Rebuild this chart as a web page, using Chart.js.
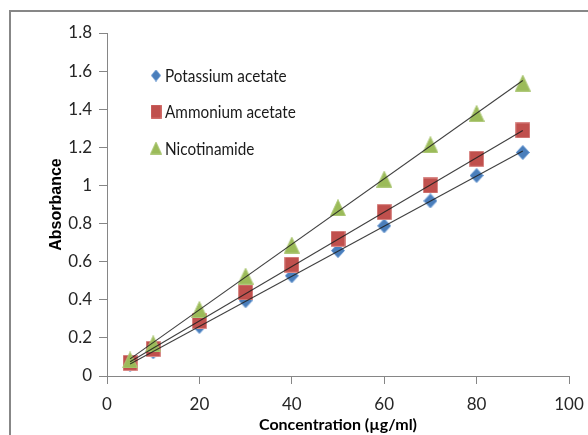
<!DOCTYPE html>
<html>
<head>
<meta charset="utf-8">
<script src="https://cdn.jsdelivr.net/npm/chart.js@4.4.1/dist/chart.umd.min.js"></script>
<style>
    body { margin: 0; background: #fff; }
    #wrap { position: relative; width: 588px; height: 435px; overflow: hidden; }
    #frame { position: absolute; left: 9px; top: 10px; width: 620px; height: 460px;
             border-left: 2px solid #878787; border-top: 2px solid #878787; }
    #chart { position: absolute; left: 0; top: 0; }
</style>
</head>
<body>
<div id="wrap">
    <div id="frame"></div>
    <canvas id="chart" width="588" height="435"></canvas>
</div>
<script>
// values
const concentrations = [5, 10, 20, 30, 40, 50, 60, 70, 80, 90];
const potassiumAcetate = [0.06, 0.127, 0.26, 0.395, 0.526, 0.658, 0.788, 0.919, 1.052, 1.173];
const ammoniumAcetate = [0.069, 0.142, 0.289, 0.439, 0.584, 0.72, 0.86, 1.0, 1.14, 1.289];
const nicotinamide = [0.084, 0.169, 0.349, 0.524, 0.687, 0.883, 1.033, 1.214, 1.378, 1.537];
const seriesNames = ['Potassium acetate', 'Ammonium acetate', 'Nicotinamide'];
const xTitle = 'Concentration (\u00b5g/ml)';
const yTitle = 'Absorbance';

const FONT = "Lato, 'Liberation Sans', sans-serif";

function makeMarker(shape, w, h, fill, stroke) {
    const c = document.createElement('canvas');
    c.width = w;
    c.height = h;
    const g = c.getContext('2d');
    g.beginPath();
    if (shape === 'diamond') {
        g.moveTo(w / 2, 0.5);
        g.lineTo(w - 0.5, h / 2);
        g.lineTo(w / 2, h - 0.5);
        g.lineTo(0.5, h / 2);
        g.closePath();
    } else if (shape === 'square') {
        g.rect(0.5, 0.5, w - 1, h - 1);
    } else {
        g.moveTo(w / 2, 0.5);
        g.lineTo(w - 0.5, h - 0.5);
        g.lineTo(0.5, h - 0.5);
        g.closePath();
    }
    g.fillStyle = fill;
    g.fill();
    g.strokeStyle = stroke;
    g.lineWidth = 1;
    g.stroke();
    return c;
}

const markers = [
    makeMarker('diamond', 14, 15, '#4a7ebb', '#5b8fcc'),
    makeMarker('square', 15, 16, '#c0504d', '#d98a88'),
    makeMarker('triangle', 16, 17, '#9bbb59', '#afc97a'),
];
const legendMarkers = [
    makeMarker('diamond', 10, 12, '#4a7ebb', '#5b8fcc'),
    makeMarker('square', 11, 14, '#c0504d', '#d06a67'),
    makeMarker('triangle', 12, 13, '#9bbb59', '#afc97a'),
];

function linearFit(xs, ys) {
    const n = xs.length;
    const mx = xs.reduce((a, b) => a + b, 0) / n;
    const my = ys.reduce((a, b) => a + b, 0) / n;
    let sxy = 0, sxx = 0;
    xs.forEach((x, i) => { sxy += (x - mx) * (ys[i] - my); sxx += (x - mx) * (x - mx); });
    const slope = sxy / sxx;
    return x => my + slope * (x - mx);
}

const seriesValues = [potassiumAcetate, ammoniumAcetate, nicotinamide];

const datasets = [];
seriesValues.forEach((values, i) => {
    const fit = linearFit(concentrations, values);
    const xFirst = concentrations[0];
    const xLast = concentrations[concentrations.length - 1];
    datasets.push({
        label: seriesNames[i] + ' trend',
        type: 'line',
        data: [{ x: xFirst, y: fit(xFirst) }, { x: xLast, y: fit(xLast) }],
        borderColor: 'rgba(30,30,30,0.85)',
        borderWidth: 1.1,
        pointRadius: 0,
        fill: false,
        order: 0,
    });
});
seriesValues.forEach((values, i) => {
    datasets.push({
        label: seriesNames[i],
        data: concentrations.map((x, j) => ({ x: x, y: values[j] })),
        pointStyle: markers[i],
        pointRadius: 7,
        showLine: false,
        order: 3 - i,
    });
});

// legend sits inside the plot, text a bit condensed like the original
const insideLegend = {
    id: 'insideLegend',
    afterDraw(chart) {
        const ctx = chart.ctx;
        const rows = [75.5, 111.5, 148];
        ctx.save();
        ctx.font = '18px ' + FONT;
        ctx.fillStyle = '#1a1a1a';
        ctx.textBaseline = 'middle';
        ctx.textAlign = 'left';
        seriesNames.forEach((name, i) => {
            const m = legendMarkers[i];
            ctx.drawImage(m, 156 - m.width / 2, rows[i] - m.height / 2);
            ctx.save();
            ctx.translate(165, rows[i] + 1);
            ctx.scale(0.85, 1);
            ctx.fillText(name, 0, 0);
            ctx.restore();
        });
        ctx.restore();
    }
};

const axisColor = '#868686';
const tickFont = { family: FONT, size: 17 };
const fmt = v => String(+Number(v).toFixed(1));

new Chart(document.getElementById('chart'), {
    type: 'scatter',
    data: { datasets: datasets },
    options: {
        responsive: false,
        animation: false,
        layout: { padding: { left: 47, top: 33, right: 19, bottom: 0 } },
        plugins: {
            legend: { display: false },
            tooltip: { enabled: false },
        },
        scales: {
            x: {
                type: 'linear',
                min: 0,
                max: 100,
                ticks: { stepSize: 20, font: tickFont, color: '#262626', padding: 10, callback: fmt },
                grid: { drawOnChartArea: false, color: axisColor, tickLength: 8 },
                border: { color: axisColor },
                title: {
                    display: true,
                    text: xTitle,
                    font: { family: FONT, size: 16, weight: 'bold' },
                    color: '#000',
                    padding: { top: 0, bottom: 1 },
                },
                afterFit: scale => {
                    scale.height = 59;
                    scale.paddingLeft = 0;
                    scale.paddingRight = 0;
                },
            },
            y: {
                type: 'linear',
                min: 0,
                max: 1.8,
                ticks: { stepSize: 0.2, font: tickFont, color: '#262626', padding: 7, callback: fmt },
                grid: { drawOnChartArea: false, color: axisColor, tickLength: 8 },
                border: { color: axisColor },
                title: {
                    display: true,
                    text: yTitle,
                    font: { family: "'Liberation Sans', sans-serif", size: 16, weight: 'bold' },
                    color: '#000',
                    padding: { top: 0, bottom: 0 },
                },
                afterFit: scale => { scale.width = 60; },
            },
        },
    },
    plugins: [insideLegend],
});
</script>
</body>
</html>
